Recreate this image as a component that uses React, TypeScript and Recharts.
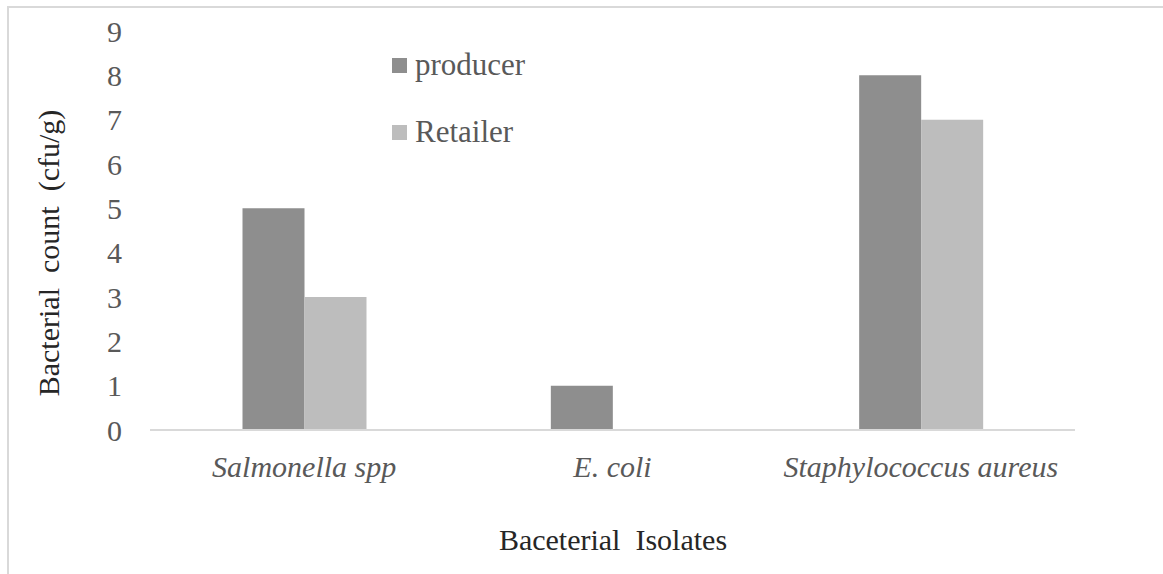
import React from 'react';
import { BarChart, Bar, XAxis, YAxis, Legend } from 'recharts';

const categories = ['Salmonella spp', 'E. coli', 'Staphylococcus aureus'];
const producer = [5, 1, 8];
const retailer = [3, 0, 7];
const yTicks = [0, 1, 2, 3, 4, 5, 6, 7, 8, 9];

const data = categories.map((name, i) => ({ name, producer: producer[i], Retailer: retailer[i] }));

const FONT = '"Liberation Serif", "Times New Roman", serif';
const PRODUCER_COLOR = '#8e8e8e';
const RETAILER_COLOR = '#bdbdbd';

const legendItems = [
  { label: 'producer', color: PRODUCER_COLOR },
  { label: 'Retailer', color: RETAILER_COLOR },
];

const renderLegend = () => (
  <div style={{ fontFamily: FONT, fontSize: 31, color: '#595959' }}>
    {legendItems.map((it, i) => (
      <div key={it.label} style={{ display: 'flex', alignItems: 'center', height: 34, marginBottom: i === 0 ? 33 : 0 }}>
        <span style={{ display: 'inline-block', width: 15, height: 15, background: it.color, marginRight: 8 }} />
        <span style={{ lineHeight: '34px' }}>{it.label}</span>
      </div>
    ))}
  </div>
);

export default function App() {
  return (
    <div style={{ position: 'absolute', left: 0, top: 0, width: 1163, height: 574, background: '#fff' }}>
      <div style={{ position: 'absolute', left: 7, top: 6, width: 1156, height: 568, borderTop: '2px solid #d9d9d9', borderLeft: '2px solid #d9d9d9' }} />
      <BarChart
        width={1163}
        height={574}
        data={data}
        margin={{ top: 31, right: 88, bottom: 0, left: 0 }}
        barCategoryGap="30%"
        barGap={0}
      >
        <XAxis
          dataKey="name"
          height={144}
          axisLine={{ stroke: '#d9d9d9', strokeWidth: 2 }}
          tickLine={false}
          tickSize={0}
          tickMargin={26}
          tick={{ fill: '#595959', fontSize: 30, fontFamily: FONT, fontStyle: 'italic' }}
          interval={0}
          label={{
            content: () => (
              <text x={613} y={550} textAnchor="middle" fill="#262626" fontSize={30} fontFamily={FONT} style={{ whiteSpace: 'pre' }}>
                {'Baceterial  Isolates'}
              </text>
            ),
          }}
        />
        <YAxis
          width={150}
          domain={[0, 9]}
          ticks={yTicks}
          interval={0}
          axisLine={false}
          tickLine={false}
          tickSize={0}
          tickMargin={28}
          tick={{ fill: '#595959', fontSize: 30, fontFamily: FONT }}
          label={{
            content: () => (
              <text x={59} y={253} transform="rotate(-90, 59, 253)" textAnchor="middle" fill="#262626" fontSize={30} fontFamily={FONT} style={{ whiteSpace: 'pre' }}>
                {'Bacterial  count  (cfu/g)'}
              </text>
            ),
          }}
        />
        <Legend
          layout="vertical"
          align="center"
          verticalAlign="middle"
          content={renderLegend}
          wrapperStyle={{ position: 'absolute', left: 392, top: 48, width: 200 }}
        />
        <Bar dataKey="producer" fill={PRODUCER_COLOR} isAnimationActive={false} />
        <Bar dataKey="Retailer" fill={RETAILER_COLOR} isAnimationActive={false} />
      </BarChart>
    </div>
  );
}
